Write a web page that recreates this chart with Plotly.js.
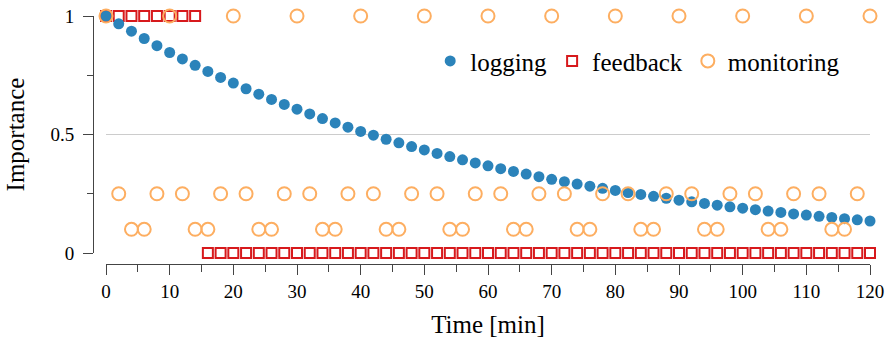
<!DOCTYPE html>
<html>
<head>
<meta charset="utf-8">
<script src="https://cdn.plot.ly/plotly-3.0.1.min.js"></script>
<style>html,body{margin:0;padding:0;background:#fff;}#chart{width:887px;height:345px;}</style>
</head>
<body>
<div id="chart"></div>
<script>
// Time points [min]
var timeMin = [0,2,4,6,8,10,12,14,16,18,20,22,24,26,28,30,32,34,36,38,40,42,44,46,48,50,52,54,56,58,60,62,64,66,68,70,72,74,76,78,80,82,84,86,88,90,92,94,96,98,100,102,104,106,108,110,112,114,116,118,120];

// logging importance
var logging = [1.000,0.967,0.936,0.905,0.875,0.846,0.819,0.792,0.766,0.741,0.717,0.693,0.670,0.648,0.627,0.607,0.587,0.567,0.549,0.531,0.513,0.497,0.480,0.465,0.449,0.435,0.420,0.407,0.393,0.380,0.368,0.356,0.344,0.333,0.322,0.311,0.301,0.291,0.282,0.273,0.264,0.255,0.247,0.239,0.231,0.223,0.216,0.209,0.202,0.195,0.189,0.183,0.177,0.171,0.165,0.160,0.155,0.150,0.145,0.140,0.135];

// feedback importance
var feedback = [1,1,1,1,1,1,1,1,0,0,0,0,0,0,0,0,0,0,0,0,0,0,0,0,0,0,0,0,0,0,0,0,0,0,0,0,0,0,0,0,0,0,0,0,0,0,0,0,0,0,0,0,0,0,0,0,0,0,0,0,0];

// monitoring importance
var monitoring = [1,0.25,0.1,0.1,0.25,1,0.25,0.1,0.1,0.25,1,0.25,0.1,0.1,0.25,1,0.25,0.1,0.1,0.25,1,0.25,0.1,0.1,0.25,1,0.25,0.1,0.1,0.25,1,0.25,0.1,0.1,0.25,1,0.25,0.1,0.1,0.25,1,0.25,0.1,0.1,0.25,1,0.25,0.1,0.1,0.25,1,0.25,0.1,0.1,0.25,1,0.25,0.1,0.1,0.25,1];

var xTicks = [0,10,20,30,40,50,60,70,80,90,100,110,120];
var yTicks = [0,0.5,1];
var yTickText = ['0','0.5','1'];

var FONT = '"Liberation Serif", serif';
var AXC = '#444';

var traces = [
  {x: timeMin, y: feedback, name: 'feedback', type: 'scatter', mode: 'markers', legendrank: 2,
   marker: {symbol: 'square-open', size: 10, color: '#d7191c', line: {width: 2, color: '#d7191c'}}, cliponaxis: false},
  {x: timeMin, y: logging, name: 'logging', type: 'scatter', mode: 'markers', legendrank: 1,
   marker: {symbol: 'circle', size: 11, color: '#2b83ba'}, cliponaxis: false},
  {x: timeMin, y: monitoring, name: 'monitoring', type: 'scatter', mode: 'markers', legendrank: 3,
   marker: {symbol: 'circle-open', size: 13, color: '#fdae61', line: {width: 2, color: '#fdae61'}}, cliponaxis: false}
];

var layout = {
  width: 887, height: 345,
  margin: {l: 93, r: 17, t: 16, b: 81, pad: 0},
  paper_bgcolor: '#fff', plot_bgcolor: '#fff',
  font: {family: FONT, color: '#000', size: 18},
  showlegend: true,
  legend: {orientation: 'h', x: 0.434, y: 0.818, xanchor: 'left', yanchor: 'middle',
    font: {family: FONT, size: 25, color: '#000'}, bgcolor: 'rgba(0,0,0,0)', itemwidth: 30, traceorder: 'normal'},
  xaxis: {
    range: [0, 120], domain: [13/777, 1], anchor: 'free', position: 0,
    showline: true, linecolor: AXC, linewidth: 1,
    ticks: 'outside', ticklen: 10, tickcolor: AXC, tickwidth: 1,
    tickmode: 'array', tickvals: xTicks,
    minor: {dtick: 5, tick0: 0, ticks: 'outside', ticklen: 7, tickcolor: AXC, showgrid: false},
    showgrid: false, zeroline: false,
    tickfont: {family: FONT, size: 19, color: '#000'},
    title: {text: 'Time [min]', font: {family: FONT, size: 25, color: '#000'}, standoff: 14}
  },
  yaxis: {
    range: [0, 1], domain: [11/248, 1], anchor: 'free', position: 0,
    showline: true, linecolor: AXC, linewidth: 1,
    ticks: 'outside', ticklen: 10, tickcolor: AXC, tickwidth: 1,
    ticklabelstandoff: 5,
    tickmode: 'array', tickvals: yTicks, ticktext: yTickText,
    minor: {tickmode: 'array', tickvals: [0.25, 0.75], ticks: 'outside', ticklen: 6, tickcolor: AXC, showgrid: false},
    showgrid: true, gridcolor: '#cccccc', gridwidth: 1, zeroline: false,
    tickfont: {family: FONT, size: 19, color: '#000'},
    title: {text: 'Importance', font: {family: FONT, size: 25, color: '#000'}, standoff: 17}
  }
};

Plotly.newPlot('chart', traces, layout, {displayModeBar: false, staticPlot: true});
</script>
</body>
</html>
